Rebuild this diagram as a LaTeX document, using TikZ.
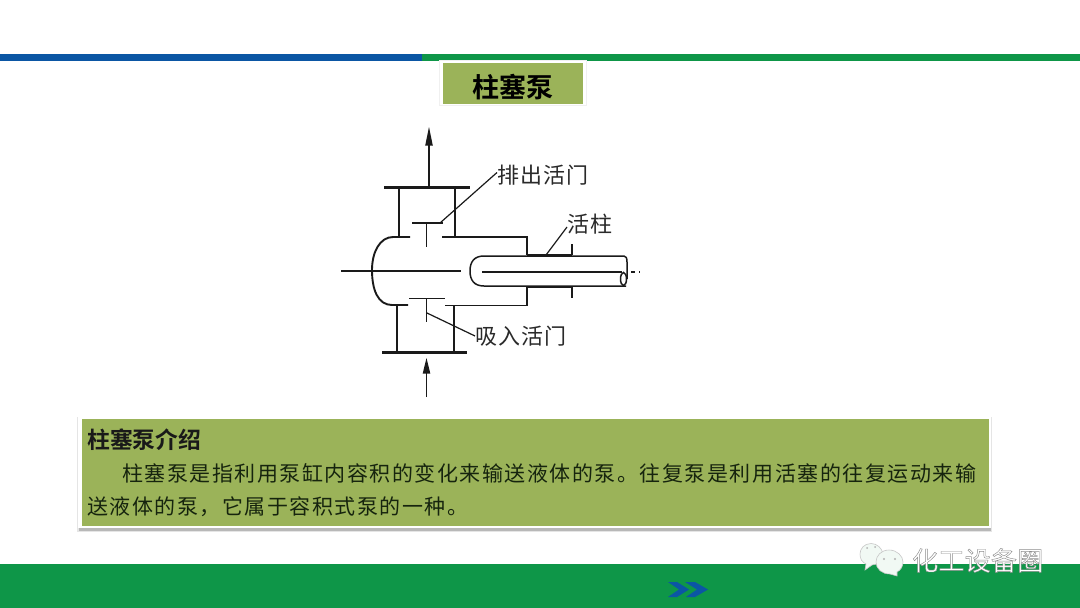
\documentclass[tikz,border=0pt]{standalone}
\usepackage{fontspec}
\setmainfont{Noto Sans CJK SC}
\newfontfamily\cjkb[Scale=1]{Noto Sans CJK SC Bold}
\usetikzlibrary{arrows.meta}
\definecolor{barblue}{HTML}{0B56A4}
\definecolor{bargreen}{HTML}{0E9648}
\definecolor{panelgreen}{HTML}{9BB359}
\definecolor{inkline}{HTML}{1A1A1A}
\definecolor{bodyink}{HTML}{16240E}
\definecolor{labelink}{HTML}{2A2A2A}
\tikzset{
  wall/.style={draw=inkline,line width=1.9pt},
  thin wall/.style={draw=inkline,line width=1.5pt},
  heavy wall/.style={draw=inkline,line width=2.6pt},
  centre/.style={draw=inkline,line width=1.1pt},
  leader/.style={draw=inkline,line width=1.2pt},
  flow/.style={draw=inkline,line width=1.4pt},
  head/.style={fill=inkline,draw=none},
  partlabel/.style={anchor=west,inner sep=0pt,text=labelink,font=\fontsize{22}{22}\selectfont\addfontfeature{LetterSpace=5}},
  bodytext/.style={anchor=west,inner sep=0pt,text=bodyink,font=\fontsize{21}{21}\selectfont\addfontfeature{LetterSpace=7.2}},
  bubble/.style={fill=white!94!bargreen,draw=black!22,line width=0.6pt},
}
\begin{document}
\begin{tikzpicture}[x=1pt,y=-1pt]
\useasboundingbox (0,0) rectangle (1080,608);
\fill[white] (0,0) rectangle (1080,608);
% bars
\fill[barblue] (0,54) rectangle (422,60.5);
\fill[bargreen] (422,54) rectangle (1080,60.5);
\fill[bargreen] (0,564) rectangle (1080,608);
\fill[black!6] (439,60) rectangle (587,106);
\fill[white] (440,60.5) rectangle (586,105);
\fill[panelgreen] (443,63) rectangle (583,103.5);
\node[inner sep=0pt,text=black,font=\cjkb\fontsize{27}{27}\selectfont] (title) at (513,87) {柱塞泵};
% panel
\fill[black!10] (77,417) rectangle (992,532);
\fill[black!28] (79,524) rectangle (991,530.5);
\fill[white] (78,416) rectangle (991,527.5);
\fill[panelgreen] (81.5,419) rectangle (989,525.5);
\node[anchor=west,inner sep=0pt,text=black!90,font=\cjkb\fontsize{22.8}{22.8}\selectfont] (head) at (87,440) {柱塞泵介绍};
\node[bodytext] (line1) at (122,473.5) {柱塞泵是指利用泵缸内容积的变化来输送液体的泵。往复泵是利用活塞的往复运动来输};
\node[bodytext] (line2) at (87,507) {送液体的泵，它属于容积式泵的一种。};
% pump: upper flange and chamber
\draw[heavy wall] (384,187.5) -- (470,187.5);
\draw[wall] (399,187.5) -- (399,237);
\draw[wall] (455,187.5) -- (455,237);
\draw[wall] (412,223) -- (443,223);
\draw[wall] (426.5,223) -- (426.5,247);
% body
\draw[wall] (410,237) -- (393,237) .. controls (380,237) and (372,252) .. (372,270)
   .. controls (372,290) and (378,305) .. (392,305) -- (408,305);
\draw[wall] (442,237) -- (527,237) -- (527,255);
\draw[wall] (445,305.5) -- (527,305.5) -- (527,287);
\draw[heavy wall] (527,255) -- (572,255);
\draw[wall] (572,244) -- (572,255);
\draw[heavy wall] (527,287) -- (572,287);
\draw[wall] (572,287) -- (572,298);
% plunger
\draw[thin wall] (626,286) -- (484,286) .. controls (474,286) and (470,280) .. (470,271)
   .. controls (470,262) and (474,256) .. (484,256) -- (624,256)
   .. controls (626,256) and (627,258) .. (627,262) -- (627,279);
\draw[thin wall] (623.5,279) ellipse (3pt and 6.5pt);
\draw[centre] (341,271) -- (461,271);
\draw[centre] (482,272) -- (622,272);
\draw[centre,dash pattern=on 4pt off 4pt] (631,272) -- (640,272);
% lower chamber
\draw[wall] (409,298.5) -- (445,298.5);
\draw[wall] (426.5,298.5) -- (426.5,322);
\draw[wall] (397,305) -- (397,352);
\draw[wall] (454,305) -- (454,352);
\draw[heavy wall] (382,352.5) -- (467,352.5);
% flow arrows
\coordinate (outfoot) at (429,187);
\coordinate (outbase) at (429,145);
\coordinate (outtip) at (429,127);
\draw[flow] (outfoot) -- (outbase);
\fill[head] (outtip) -- (432.8,145.5) -- (425.2,145.5) -- cycle;
\coordinate (infoot) at (426.5,397);
\coordinate (inbase) at (426.5,372);
\coordinate (intip) at (426.5,358);
\draw[flow] (infoot) -- (inbase);
\fill[head] (intip) -- (430.3,373.5) -- (422.7,373.5) -- cycle;
% labels
\node[partlabel] (outvalve) at (497,175.5) {排出活门};
\node[partlabel] (plunger) at (567,224) {活柱};
\node[partlabel] (invalve) at (475,336) {吸入活门};
\coordinate (outvalvept) at (440,223);
\coordinate (plungerpt) at (546,255);
\coordinate (invalvept) at (427,313);
\draw[leader] ([yshift=3pt]outvalve.west) -- (outvalvept);
\draw[leader] ([yshift=-3pt]plunger.west) -- (plungerpt);
\draw[leader] (invalve.west) -- (invalvept);
% chevrons
\fill[barblue] (668,582) -- (677,582) -- (689,589.5) -- (677,597) -- (668,597) -- (679,589.5) -- cycle;
\fill[barblue] (685,582) -- (695,582) -- (708,589.5) -- (695,597) -- (686,597) -- (697,589.5) -- cycle;
% watermark
\path[bubble] (871,543.5) .. controls (864,543.5) and (860,549) .. (860,554) .. controls (860,559) and (862,562) .. (866,564) -- (865,570) -- (872,565) .. controls (878,565) and (882,560) .. (883,554) .. controls (882,548) and (877,543.5) .. (871,543.5) -- cycle;
\path[bubble] (889,550) .. controls (881,550) and (876,556) .. (876,562) .. controls (876,569) and (882,574) .. (890,574) -- (897,576) -- (897,572) .. controls (901,570) and (903,566) .. (903,562) .. controls (903,556) and (897,550) .. (889,550) -- cycle;
\fill[black!30] (884,559) circle (1.2pt) (895,559) circle (1.2pt) (867,548) circle (1pt) (875,547) circle (1pt);
\node[anchor=west,inner sep=0pt,text=white,font=\fontsize{26}{26}\selectfont\addfontfeature{LetterSpace=1}] (mark) at (912,560.5) {\special{pdf:code 2 Tr 0.45 w 0.55 0.55 0.55 RG}化工设备圈\special{pdf:code 0 Tr}};
\end{tikzpicture}
\end{document}
